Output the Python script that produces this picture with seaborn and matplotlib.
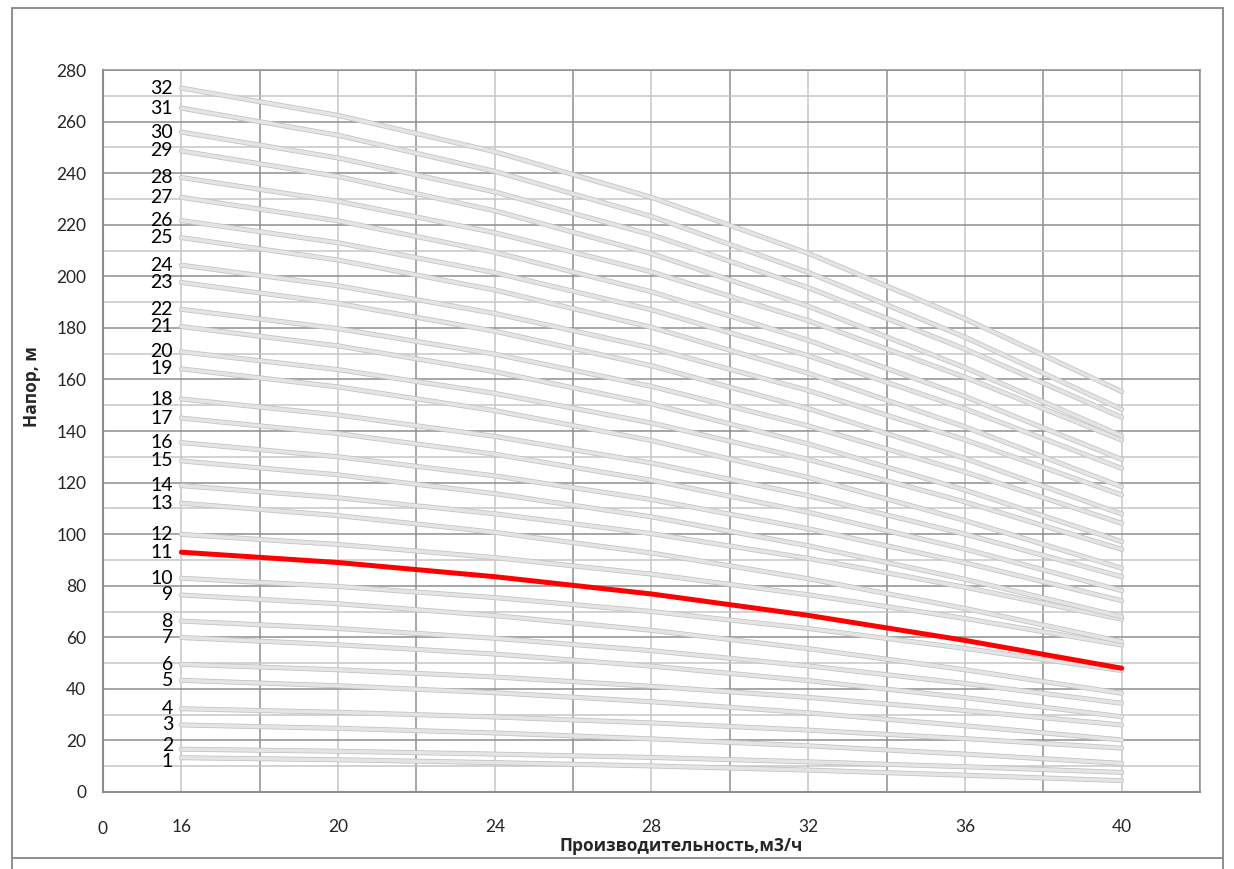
import matplotlib
matplotlib.use("Agg")
import matplotlib.pyplot as plt
import matplotlib.patheffects as pe
from matplotlib.lines import Line2D
import numpy as np
import pandas as pd
import seaborn as sns

# flow points (m3/h) and head (m) of every stage count
flow = [16, 20, 24, 28, 32, 36, 40]

h01 = [13.3, 12.5, 11.4, 10.1, 8.5, 6.5, 4.4]
h02 = [16.6, 15.8, 14.7, 13.4, 11.7, 9.8, 7.6]
h03 = [26.0, 24.7, 22.9, 20.6, 17.9, 14.7, 11.1]
h04 = [32.3, 30.9, 29.1, 26.8, 24.0, 20.7, 17.0]
h05 = [43.3, 41.2, 38.5, 35.0, 30.7, 25.7, 20.2]
h06 = [49.5, 47.4, 44.6, 41.0, 36.7, 31.6, 26.0]
h07 = [59.9, 57.1, 53.5, 48.8, 43.2, 36.6, 29.2]
h08 = [66.3, 63.4, 59.6, 54.8, 48.9, 42.1, 34.4]
h09 = [76.4, 73.0, 68.4, 62.7, 55.6, 47.4, 38.3]
h10 = [82.9, 79.7, 75.4, 70.0, 63.4, 55.7, 47.1]
h11 = [93.0, 89.0, 83.5, 76.8, 68.5, 58.8, 48.0]
h12 = [99.9, 96.0, 90.9, 84.5, 76.5, 67.3, 57.0]
h13 = [112.0, 107.2, 100.7, 92.7, 82.7, 71.2, 58.3]
h14 = [118.8, 114.1, 107.9, 100.2, 90.6, 79.4, 67.0]
h15 = [128.4, 123.0, 115.7, 106.7, 95.5, 82.5, 68.0]
h16 = [135.5, 130.0, 122.6, 113.4, 102.1, 88.9, 74.2]
h17 = [145.0, 139.0, 131.0, 120.9, 108.5, 94.2, 78.1]
h18 = [152.4, 146.2, 137.9, 127.6, 114.9, 100.0, 83.5]
h19 = [164.1, 157.1, 147.9, 136.3, 122.0, 105.3, 86.8]
h20 = [170.7, 163.8, 154.6, 143.1, 129.0, 112.5, 94.1]
h21 = [180.5, 173.0, 163.0, 150.5, 135.0, 117.1, 97.1]
h22 = [187.2, 179.7, 169.8, 157.3, 142.0, 124.1, 104.2]
h23 = [197.6, 189.5, 178.7, 165.3, 148.7, 129.4, 107.8]
h24 = [204.3, 196.3, 185.6, 172.2, 155.7, 136.6, 115.2]
h25 = [215.0, 206.3, 194.7, 180.2, 162.4, 141.6, 118.4]
h26 = [221.6, 213.0, 201.4, 187.0, 169.2, 148.6, 125.5]
h27 = [230.6, 221.5, 209.3, 194.0, 175.2, 153.4, 129.0]
h28 = [238.3, 229.1, 216.9, 201.7, 182.8, 160.9, 136.5]
h29 = [248.6, 238.7, 225.4, 208.8, 188.4, 164.6, 138.1]
h30 = [255.9, 245.9, 232.7, 216.1, 195.6, 171.8, 145.3]
h31 = [265.2, 254.7, 240.7, 223.2, 201.5, 176.4, 148.4]
h32 = [273.0, 262.4, 248.3, 230.6, 208.9, 183.5, 155.3]

heads = [h01, h02, h03, h04, h05, h06, h07, h08, h09, h10, h11, h12, h13, h14, h15, h16,
         h17, h18, h19, h20, h21, h22, h23, h24, h25, h26, h27, h28, h29, h30, h31, h32]
stages = list(range(1, 33))
selected = 11

y_ticks = list(range(0, 281, 20))
x_label = "Производительность,м3/ч"
y_label = "Напор, м"

rows = []
for st, h in zip(stages, heads):
    for q, v in zip(flow, h):
        rows.append((q, v, st))
df = pd.DataFrame(rows, columns=["flow", "head", "stage"])

sns.set_style("white")
plt.rcParams["font.family"] = ["Lato", "Open Sans", "DejaVu Sans"]

W, H = 1234, 869
fig = plt.figure(figsize=(W / 100, H / 100), dpi=100)
ax = fig.add_axes([103 / W, 1 - 792 / H, 1097 / W, 722 / H])

# gray curves with a thin darker rim, like the excel style
sns.lineplot(data=df[df.stage != selected], x="flow", y="head", units="stage",
             estimator=None, sort=False, color="#e4e4e4", lw=2.5, legend=False, ax=ax,
             solid_capstyle="round",
             path_effects=[pe.Stroke(linewidth=3.6, foreground="#c2c2c2"), pe.Normal()])
sns.lineplot(data=df[df.stage == selected], x="flow", y="head", sort=False,
             color="#ff0000", lw=3.6, legend=False, ax=ax, solid_capstyle="round")

# stage numbers at the start of each curve (1 and 2 nudged apart as in the source)
nudge = {1: -2.5, 2: 2.5}
for st, h in zip(stages, heads):
    ax.annotate(str(st), xy=(flow[0], h[0]), xytext=(-6, nudge.get(st, 0)),
                textcoords="offset points", ha="right", va="center",
                fontsize=14, color="black")

ax.set_xlim(14, 42)
ax.set_ylim(0, 280)
major_x = list(range(14, 43, 4))
ax.set_xticks(major_x, labels=["0"] + [""] * (len(major_x) - 1))
ax.set_xticks(flow, labels=[str(q) for q in flow], minor=True)
ax.set_yticks(y_ticks, labels=[str(v) for v in y_ticks])
ax.set_yticks(list(range(10, 280, 20)), minor=True)

ax.grid(which="major", color="#8e8e8e", lw=1.1)
ax.grid(which="minor", color="#c6c6c6", lw=1.1)
ax.set_axisbelow(True)
for s in ax.spines.values():
    s.set_color("#8e8e8e")
    s.set_linewidth(1.1)
ax.spines["left"].set_linewidth(1.5)
ax.spines["bottom"].set_linewidth(1.5)

ax.tick_params(axis="x", which="major", length=5, width=1.1, color="#8e8e8e",
               pad=16, labelsize=12.5)
ax.tick_params(axis="x", which="minor", length=0, pad=19.6, labelsize=12.5)
ax.tick_params(axis="y", which="major", length=5, width=1.1, color="#8e8e8e",
               pad=7, labelsize=12.5)
ax.tick_params(axis="y", which="minor", length=0)

ax.set_xlabel(x_label, fontsize=12.5, fontweight="bold", family=["Open Sans", "DejaVu Sans"])
ax.set_ylabel(y_label, fontsize=12.5, fontweight="bold", family=["Open Sans", "DejaVu Sans"])
ax.xaxis.set_label_coords((681 - 103) / 1097, (792 - 837) / 722)
ax.yaxis.set_label_coords((41 - 103) / 1097, (792 - 387) / 722)

# outer chart frame
frame = dict(color="#8e8e8e", lw=1.4, transform=fig.transFigure)
fig.add_artist(Line2D([12 / W, 1223 / W], [1 - 8 / H, 1 - 8 / H], **frame))
fig.add_artist(Line2D([12 / W, 12 / W], [1 - 8 / H, 0], **frame))
fig.add_artist(Line2D([1223 / W, 1223 / W], [1 - 8 / H, 0], **frame))
fig.add_artist(Line2D([12 / W, 1223 / W], [1 - 858 / H, 1 - 858 / H], **frame))

fig.savefig("out.png", dpi=100)
